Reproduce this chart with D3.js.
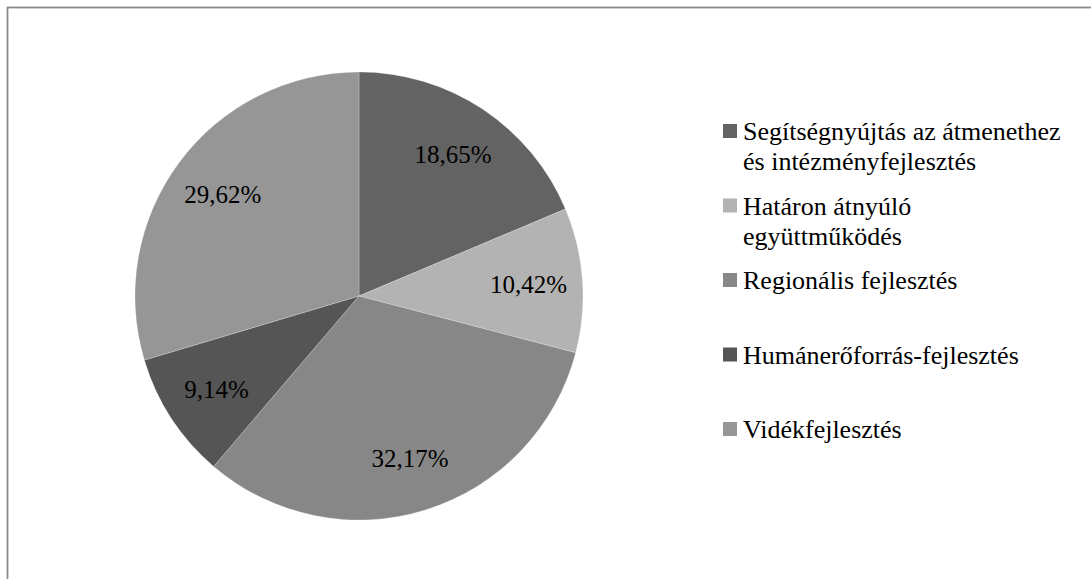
<!DOCTYPE html>
<html>
<head>
<meta charset="utf-8">
<script src="https://cdn.jsdelivr.net/npm/d3@7"></script>
<style>
  body { margin: 0; background: #fff; }
  svg { display: block; }
</style>
</head>
<body>
<svg width="1091" height="579"></svg>
<script>
// chart data
var categories = [
    "Segítségnyújtás az átmenethez és intézményfejlesztés",
    "Határon átnyúló együttműködés",
    "Regionális fejlesztés",
    "Humánerőforrás-fejlesztés",
    "Vidékfejlesztés"
];
var shares = [18.65, 10.42, 32.17, 9.14, 29.62];
// how the legend breaks the two long names
var legendLines = [
    ["Segítségnyújtás az átmenethez", "és intézményfejlesztés"],
    ["Határon átnyúló", "együttműködés"],
    ["Regionális fejlesztés"],
    ["Humánerőforrás-fejlesztés"],
    ["Vidékfejlesztés"]
];
var sliceColors = ["#636363", "#b3b3b3", "#878787", "#555555", "#969696"];

var serif = "'Liberation Serif', Tinos, 'Times New Roman', Times, 'Noto Serif', 'DejaVu Serif', FreeSerif, 'Nimbus Roman', serif";

var svg = d3.select("svg"),
    width = +svg.attr("width"),
    height = +svg.attr("height");

// frame (right and bottom edges fall outside the picture)
svg.append("rect")
    .attr("x", 7.5)
    .attr("y", 7.5)
    .attr("width", width + 20)
    .attr("height", height + 20)
    .style("fill", "none")
    .style("stroke", "#898989")
    .style("stroke-width", 1.75);

var cx = 359, cy = 296, radius = 224;

var color = d3.scaleOrdinal().domain(categories).range(sliceColors);

var pie = d3.pie()
    .sort(null)
    .value(function (d, i) { return shares[i]; });

var arc = d3.arc().innerRadius(0).outerRadius(radius);
var labelArc = d3.arc().innerRadius(170).outerRadius(170);

var hu = d3.formatLocale({decimal: ",", thousands: " ", grouping: [3], currency: ["", " Ft"]});
var pct = hu.format(".2f");

var g = svg.append("g").attr("transform", "translate(" + cx + "," + cy + ")");

var slices = g.selectAll(".slice")
    .data(pie(categories))
    .enter().append("g")
    .attr("class", "slice");

slices.append("path")
    .attr("d", arc)
    .style("fill", function (d) { return color(d.data); })
    .style("stroke", "#ffffff")
    .style("stroke-opacity", 0.3)
    .style("stroke-width", 0.75);

slices.append("text")
    .attr("transform", function (d) { return "translate(" + labelArc.centroid(d) + ")"; })
    .attr("text-anchor", "middle")
    .attr("dy", "0.35em")
    .attr("font-family", serif)
    .attr("font-size", 25)
    .attr("fill", "#000")
    .text(function (d) { return pct(d.value) + "%"; });

// legend
var legendX = 723, firstBaseline = 140, rowStep = 74.5, lineStep = 30;

var legend = svg.append("g").attr("class", "legend");

var item = legend.selectAll(".item")
    .data(categories)
    .enter().append("g")
    .attr("class", "item")
    .attr("transform", function (d, i) {
        return "translate(" + legendX + "," + (firstBaseline + i * rowStep) + ")";
    });

item.append("rect")
    .attr("x", 0)
    .attr("y", -16)
    .attr("width", 14)
    .attr("height", 14)
    .style("fill", function (d) { return color(d); });

item.append("text")
    .attr("x", 20)
    .attr("font-family", serif)
    .attr("font-size", 26)
    .attr("fill", "#000")
    .selectAll("tspan")
    .data(function (d, i) { return legendLines[i]; })
    .enter().append("tspan")
    .attr("x", 20)
    .attr("y", function (d, j) { return j * lineStep; })
    .text(function (d) { return d; });
</script>
</body>
</html>
